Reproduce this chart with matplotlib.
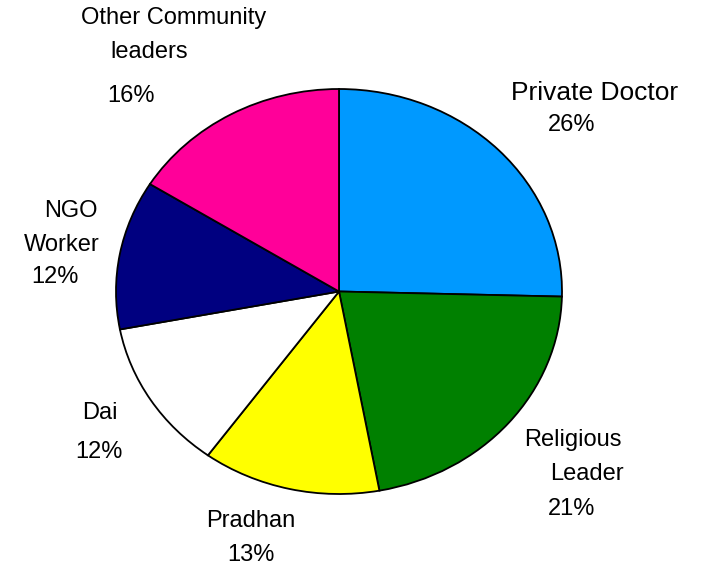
import matplotlib
matplotlib.use('Agg')
import matplotlib.pyplot as plt

plt.rcParams['font.family'] = ['Liberation Sans', 'DejaVu Sans']

categories = ['Private Doctor', 'Religious Leader', 'Pradhan', 'Dai', 'NGO Worker', 'Other Community leaders']
# slice sizes read from the wedge boundaries (labels show the rounded values)
shares = [25.4, 21.7, 12.9, 12.0, 11.9, 16.1]
colors = ['#0099ff', '#008000', '#ffff00', '#ffffff', '#000080', '#ff0099']

# label lines as they are broken up in the original, with pixel anchors
label_lines = [
    [('Private Doctor', 595, 93), ('26%', 572, 125)],
    [('Religious', 573, 440), ('Leader', 587, 474), ('21%', 572, 509)],
    [('Pradhan', 251, 521), ('13%', 251, 555)],
    [('Dai', 100, 413), ('12%', 99, 452)],
    [('NGO', 71, 211), ('Worker', 62, 245), ('12%', 55, 277)],
    [('Other Community', 174, 18), ('leaders', 149, 52), ('16%', 131, 96)],
]

W, H = 704, 569
fig = plt.figure(figsize=(W / 100, H / 100), dpi=100)
# pie is slightly stretched horizontally in the original
ax = fig.add_axes([116 / W, (H - 494) / H, 446 / W, 405 / H])
ax.pie(shares, colors=colors, startangle=90, counterclock=False,
       wedgeprops=dict(edgecolor='black', linewidth=1.3))
ax.set_aspect('auto')
ax.set_xlim(-1, 1)
ax.set_ylim(-1, 1)
ax.axis('off')

for lines in label_lines:
    for txt, px, py in lines:
        size = 19 if txt == 'Private Doctor' else 17
        fig.text(px / W, 1 - py / H, txt, ha='center', va='center', fontsize=size)

plt.savefig('out.png', dpi=100)
